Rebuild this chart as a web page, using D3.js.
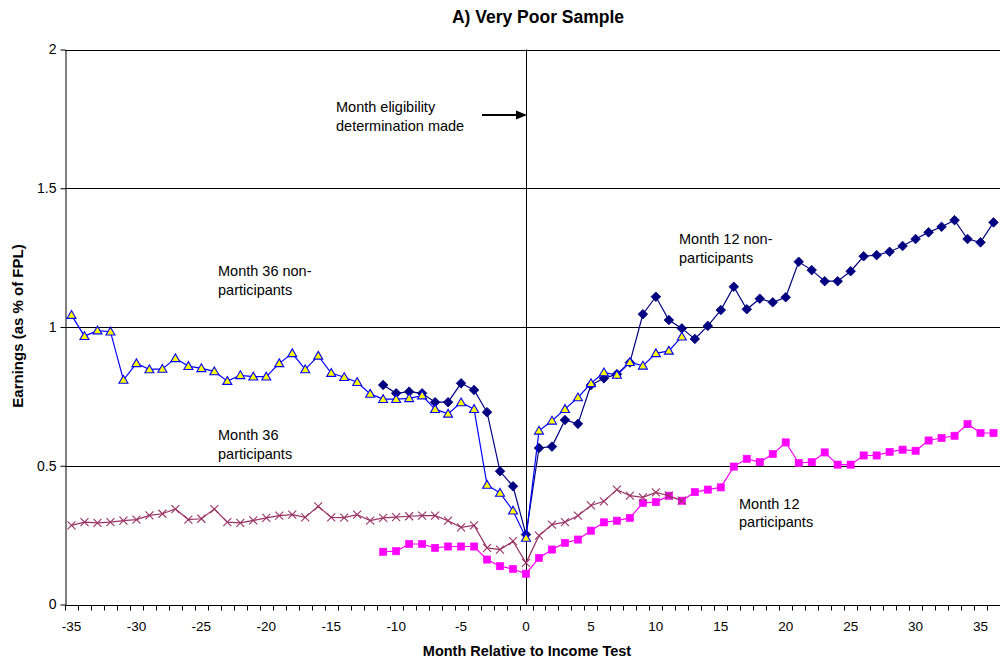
<!DOCTYPE html>
<html>
<head>
<meta charset="utf-8">
<script src="https://cdn.jsdelivr.net/npm/d3@7"></script>
<style>
  html, body { margin: 0; padding: 0; background: #fff; }
  svg { display: block; font-family: "Liberation Sans", Arial, sans-serif; }
</style>
</head>
<body>
<svg id="chart" width="1000" height="663"></svg>
<script>
// ---- data ----
const months = [-35,-34,-33,-32,-31,-30,-29,-28,-27,-26,-25,-24,-23,-22,-21,-20,-19,-18,-17,-16,-15,-14,-13,-12,-11,-10,-9,-8,-7,-6,-5,-4,-3,-2,-1,0,1,2,3,4,5,6,7,8,9,10,11,12,13,14,15,16,17,18,19,20,21,22,23,24,25,26,27,28,29,30,31,32,33,34,35,36];
const xTickLabels = [-35,-30,-25,-20,-15,-10,-5,0,5,10,15,20,25,30,35];
const yTicks = [0, 0.5, 1, 1.5, 2];

// Month 36 non-participants: months -35 .. 12
const m36NonStart = -35;
const m36NonValues = [1.043,0.967,0.987,0.983,0.809,0.869,0.847,0.849,0.887,0.859,0.851,0.840,0.805,0.826,0.821,0.821,0.869,0.905,0.847,0.896,0.834,0.819,0.801,0.759,0.740,0.740,0.743,0.753,0.704,0.687,0.728,0.704,0.431,0.402,0.338,0.240,0.626,0.662,0.704,0.746,0.797,0.836,0.827,0.873,0.860,0.905,0.914,0.965];

// Month 12 non-participants: months -11 .. 36
const m12NonStart = -11;
const m12NonValues = [0.791,0.761,0.767,0.761,0.729,0.729,0.797,0.773,0.693,0.480,0.426,0.252,0.564,0.569,0.665,0.651,0.791,0.815,0.830,0.872,1.046,1.109,1.025,0.995,0.957,1.004,1.061,1.145,1.064,1.102,1.089,1.107,1.235,1.205,1.165,1.165,1.201,1.255,1.259,1.271,1.292,1.317,1.341,1.361,1.385,1.317,1.305,1.377];

// Month 36 participants: months -35 .. 12
const m36PartStart = -35;
const m36PartValues = [0.285,0.297,0.294,0.297,0.302,0.306,0.321,0.327,0.344,0.306,0.309,0.344,0.297,0.294,0.303,0.312,0.320,0.324,0.314,0.354,0.314,0.313,0.324,0.302,0.312,0.315,0.318,0.320,0.320,0.302,0.278,0.285,0.204,0.198,0.228,0.150,0.248,0.288,0.297,0.320,0.357,0.372,0.414,0.392,0.386,0.404,0.392,0.374];

// Month 12 participants: months -11 .. 36
const m12PartStart = -11;
const m12PartValues = [0.190,0.192,0.218,0.218,0.204,0.209,0.209,0.209,0.162,0.138,0.128,0.111,0.168,0.198,0.222,0.234,0.266,0.296,0.302,0.312,0.366,0.369,0.392,0.374,0.405,0.414,0.422,0.497,0.525,0.513,0.542,0.584,0.510,0.513,0.548,0.504,0.504,0.537,0.537,0.550,0.558,0.554,0.591,0.600,0.608,0.650,0.618,0.618];

const chartTitle = "A) Very Poor Sample";
const xTitle = "Month Relative to Income Test";
const yTitle = "Earnings (as % of FPL)";

// ---- layout ----
const svg = d3.select("#chart");
const plotLeft = 65, plotRight = 1000, plotTop = 49.5, plotBottom = 604.5;

const x = d3.scaleBand().domain(months).range([plotLeft, plotRight]).padding(0);
const bw = x.bandwidth();
const cx = m => x(m) + bw / 2;
const y = d3.scaleLinear().domain([0, 2]).range([plotBottom, plotTop]);

// gridlines
svg.append("g").selectAll("line").data(yTicks.filter(d => d > 0)).join("line")
  .attr("x1", plotLeft).attr("x2", plotRight)
  .attr("y1", d => Math.round(y(d)) + 0.5).attr("y2", d => Math.round(y(d)) + 0.5)
  .attr("stroke", "#000").attr("stroke-width", 1);

// y axis
const yAxis = svg.append("g").attr("transform", `translate(${plotLeft + 0.5},0)`)
  .call(d3.axisLeft(y).tickValues(yTicks).tickSize(5).tickSizeOuter(0).tickFormat(d3.format("")));
yAxis.select(".domain").attr("stroke", "#000");
yAxis.selectAll(".tick line").attr("stroke", "#000");
yAxis.selectAll(".tick text").attr("font-size", 14).attr("font-family", "Liberation Sans, Arial, sans-serif").attr("fill", "#000").attr("x", -9);

// x axis: tick marks between categories, labels every 5
const xAxisG = svg.append("g").attr("transform", `translate(0,${Math.round(plotBottom) + 0.5})`);
xAxisG.append("line").attr("x1", plotLeft).attr("x2", plotRight).attr("stroke", "#000");
const boundaries = months.map(m => x(m)).concat([x(months[months.length - 1]) + bw]);
xAxisG.selectAll("line.tk").data(boundaries).join("line").attr("class", "tk")
  .attr("x1", d => Math.round(d) + 0.5).attr("x2", d => Math.round(d) + 0.5)
  .attr("y1", 0).attr("y2", 5).attr("stroke", "#000");
xAxisG.selectAll("text").data(xTickLabels).join("text")
  .attr("x", d => cx(d)).attr("y", 25).attr("text-anchor", "middle")
  .attr("font-size", 13.5).attr("fill", "#000").text(d => d);

// vertical line at month 0
svg.append("line")
  .attr("x1", Math.round(cx(0)) + 0.5).attr("x2", Math.round(cx(0)) + 0.5)
  .attr("y1", plotTop).attr("y2", plotBottom)
  .attr("stroke", "#000").attr("stroke-width", 1);

// series
function pts(start, vals) { return vals.map((v, i) => ({ m: start + i, v })); }
const line = d3.line().x(d => cx(d.m)).y(d => y(d.v));

function drawSeries(data, color, marker) {
  const g = svg.append("g");
  g.append("path").datum(data).attr("d", line).attr("fill", "none")
    .attr("stroke", color).attr("stroke-width", 1.2);
  const mg = g.selectAll("g").data(data).join("g")
    .attr("transform", d => `translate(${cx(d.m)},${y(d.v)})`);
  marker(mg);
}

// Month 12 non-participants (navy diamonds)
drawSeries(pts(m12NonStart, m12NonValues), "#000080", sel =>
  sel.append("path").attr("d", "M0,-4.8L4.8,0L0,4.8L-4.8,0Z").attr("fill", "#000080").attr("stroke", "#000080").attr("stroke-width", 0.8));

// Month 12 participants (magenta squares)
drawSeries(pts(m12PartStart, m12PartValues), "#FF00FF", sel =>
  sel.append("rect").attr("x", -3.6).attr("y", -3.6).attr("width", 7.2).attr("height", 7.2).attr("fill", "#FF00FF").attr("stroke", "#FF00FF").attr("stroke-width", 0.6));

// Month 36 non-participants (blue line, yellow triangles)
drawSeries(pts(m36NonStart, m36NonValues), "#0000FF", sel =>
  sel.append("path").attr("d", "M0,-4.5L4.5,3.3L-4.5,3.3Z").attr("fill", "#FFFF00").attr("stroke", "#0000FF").attr("stroke-width", 1.1));

// Month 36 participants (maroon x)
drawSeries(pts(m36PartStart, m36PartValues), "#993366", sel =>
  sel.append("path").attr("d", "M-4,-4L4,4M-4,4L4,-4").attr("fill", "none").attr("stroke", "#993366").attr("stroke-width", 1.1));

// annotations
function label(lines, xPos, yPos) {
  const t = svg.append("text").attr("font-size", 14.5).attr("fill", "#000");
  lines.forEach((s, i) => t.append("tspan").attr("x", xPos).attr("y", yPos + i * 18.5).text(s));
}
label(["Month eligibility", "determination made"], 336, 112);
label(["Month 36 non-", "participants"], 218, 276);
label(["Month 36", "participants"], 218, 440);
label(["Month 12 non-", "participants"], 679, 244);
label(["Month 12", "participants"], 739, 508.5);

// arrow
svg.append("line").attr("x1", 482).attr("x2", 519).attr("y1", 115).attr("y2", 115)
  .attr("stroke", "#000").attr("stroke-width", 2);
svg.append("path").attr("d", "M527,115L516,110.5L516,119.5Z").attr("fill", "#000");

// titles
svg.append("text").attr("x", 538).attr("y", 23).attr("text-anchor", "middle")
  .attr("font-size", 17.5).attr("font-weight", "bold").text(chartTitle);
svg.append("text").attr("x", 527).attr("y", 656).attr("text-anchor", "middle")
  .attr("font-size", 14.5).attr("font-weight", "bold").text(xTitle);
svg.append("text").attr("transform", "translate(23,326) rotate(-90)").attr("text-anchor", "middle")
  .attr("font-size", 15).attr("font-weight", "bold").text(yTitle);
</script>
</body>
</html>
